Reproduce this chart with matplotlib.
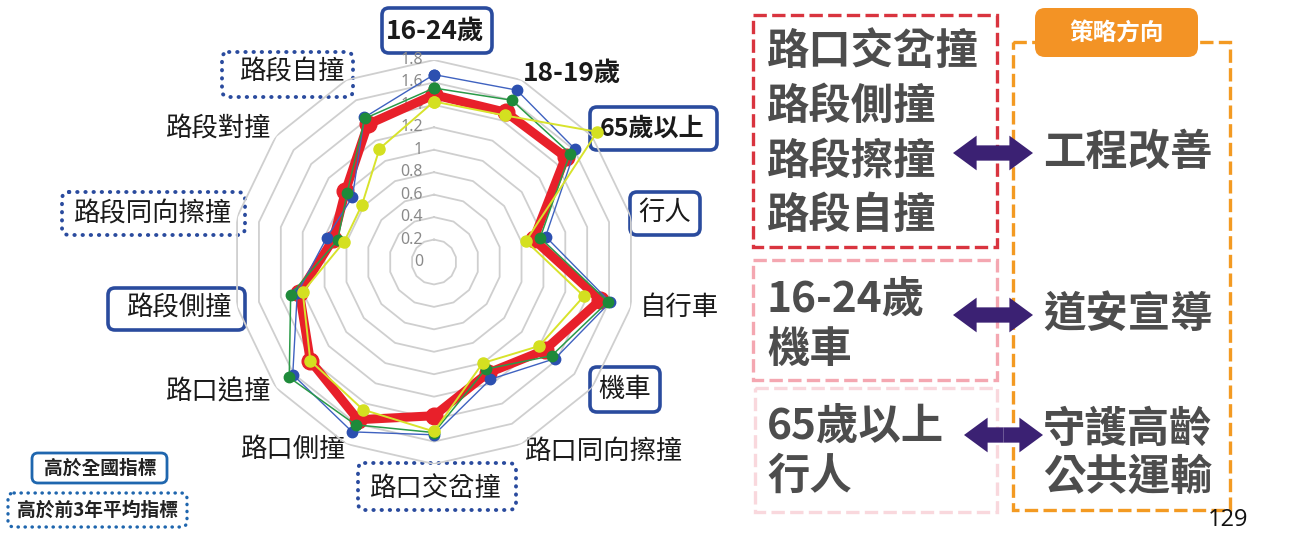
import numpy as np
import matplotlib
matplotlib.use('Agg')
import matplotlib.pyplot as plt
from matplotlib.patches import Rectangle, FancyBboxPatch, FancyArrowPatch

plt.rcParams['font.family'] = ['Noto Sans CJK TC', 'DejaVu Sans']

# radar categories (clockwise from top)
cats = ['16-24歲', '18-19歲', '65歲以上', '行人', '自行車', '機車', '路口同向擦撞',
        '路口交岔撞', '路口側撞', '路口追撞', '路段側撞', '路段同向擦撞', '路段對撞', '路段自撞']
blue = [1.67, 1.70, 1.61, 1.02, 1.61, 1.38, 1.16, 1.54, 1.68, 1.61, 1.25, 0.98, 0.93, 1.43]
green = [1.55, 1.60, 1.55, 0.97, 1.59, 1.34, 1.06, 1.52, 1.61, 1.65, 1.31, 0.88, 0.99, 1.42]
red = [1.49, 1.48, 1.50, 0.91, 1.52, 1.26, 1.10, 1.37, 1.56, 1.41, 1.23, 0.92, 1.01, 1.36]
yellow = [1.43, 1.45, 1.86, 0.84, 1.37, 1.20, 1.00, 1.51, 1.46, 1.41, 1.20, 0.82, 0.82, 1.12]
ticks = [0, 0.2, 0.4, 0.6, 0.8, 1.0, 1.2, 1.4, 1.6, 1.8]
tick_labels = ['0', '0.2', '0.4', '0.6', '0.8', '1', '1.2', '1.4', '1.6', '1.8']

# right panel text
issues = [['路口交岔撞', '路段側撞', '路段擦撞', '路段自撞'], ['16-24歲', '機車'], ['65歲以上', '行人']]
strategies = [['工程改善'], ['道安宣導'], ['守護高齡', '公共運輸']]
legend_labels = ['高於全國指標', '高於前3年平均指標']

W, H = 1292, 535
fig = plt.figure(figsize=(W / 100, H / 100), dpi=100)

# full-figure layer in pixel coords for labels, boxes, right panel
bg = fig.add_axes([0, 0, 1, 1])
bg.set_xlim(0, W)
bg.set_ylim(H, 0)
bg.axis('off')

# radar axes
cx, cy, R = 434, 262, 202
ax = fig.add_axes([(cx - R) / W, (H - cy - R) / H, 2 * R / W, 2 * R / H], projection='polar')
ax.set_theta_offset(np.pi / 2)
ax.set_theta_direction(-1)
ax.set_ylim(0, 1.8)
ax.patch.set_visible(False)
ax.grid(False)
ax.spines['polar'].set_visible(False)
ax.set_xticks([])
ax.set_yticks([])

n = len(cats)
ang = np.linspace(0, 2 * np.pi, n, endpoint=False)
ang_c = np.append(ang, ang[0])

def closed(v):
    return np.append(v, v[0])

# polygon gridlines
for t in ticks[1:]:
    ax.plot(ang_c, [t] * (n + 1), color='#cfcfcf', lw=1.3, zorder=1)
for t, lab in zip(ticks, tick_labels):
    ax.annotate(lab, (0, t), xytext=(-8, 0), textcoords='offset points', ha='right', va='center',
                color='#8a8a8a', fontsize=11.5, family=['Noto Sans', 'DejaVu Sans'], zorder=2)

ax.plot(ang_c, closed(red), color='#E8202A', lw=6.5, marker='o', ms=12, zorder=3, clip_on=False)
ax.plot(ang_c, closed(blue), color='#3F62C0', lw=1, marker='o', ms=7.5, mfc='#2C50B0', mec='#2C50B0',
        zorder=4, clip_on=False)
ax.plot(ang_c, closed(green), color='#2A9A48', lw=1.1, marker='o', ms=7.5, mfc='#1E8A3A', mec='#1E8A3A',
        zorder=5, clip_on=False)
ax.plot(ang_c, closed(yellow), color='#D8E32C', lw=1.4, marker='o', ms=8, mfc='#D4E020', mec='#D4E020',
        zorder=6, clip_on=False)

# category labels
label_xy = [(435, 31), (572, 73), (652, 129), (665, 212), (679, 307), (625, 389), (604, 451),
            (436, 488), (294, 449), (219, 392), (180, 308), (153, 214), (219, 129), (293, 72)]
sizes = [19, 19, 18] + [19] * 11
bold = [True, True, True] + [False] * 11
for lab, (x, y), b, fs in zip(cats, label_xy, bold, sizes):
    bg.text(x, y, lab, ha='center', va='center', fontsize=fs, color='#1a1a1a',
            fontweight='bold' if b else 'normal')

box_blue = '#2A4B9E'
solid_boxes = [(382, 8, 492, 53), (590, 107, 717, 150), (630, 192, 700, 235), (590, 367, 660, 412),
               (108, 288, 245, 330)]
dotted_boxes = [(358, 463, 516, 510), (62, 192, 245, 235), (222, 52, 353, 97)]
for x0, y0, x1, y1 in solid_boxes:
    bg.add_patch(FancyBboxPatch((x0, y0), x1 - x0, y1 - y0, boxstyle='round,pad=0,rounding_size=7',
                                fill=False, ec=box_blue, lw=2.6))
for x0, y0, x1, y1 in dotted_boxes:
    p = FancyBboxPatch((x0, y0), x1 - x0, y1 - y0, boxstyle='round,pad=0,rounding_size=7',
                       fill=False, ec=box_blue, lw=2.8, ls=(0, (0.1, 2.0)))
    p.set_capstyle('round')
    bg.add_patch(p)

# legend boxes bottom left
leg_blue = '#1F66AE'
bg.add_patch(FancyBboxPatch((32, 453), 135, 30, boxstyle='round,pad=0,rounding_size=6',
                            fill=False, ec=leg_blue, lw=2))
p = FancyBboxPatch((8, 493), 179, 34, boxstyle='round,pad=0,rounding_size=6',
                   fill=False, ec=leg_blue, lw=2.4, ls=(0, (0.1, 2.0)))
p.set_capstyle('round')
bg.add_patch(p)
bg.text(100, 468, legend_labels[0], ha='center', va='center', fontsize=13.5, fontweight='bold', color='#222222')
bg.text(98, 510, legend_labels[1], ha='center', va='center', fontsize=13.5, fontweight='bold', color='#222222')

# right panel
dash = (0, (4, 1.6))
bg.add_patch(Rectangle((753, 15), 244, 232, fill=False, ec='#D9343F', lw=2.4, ls=dash))
bg.add_patch(Rectangle((753, 260), 244, 120, fill=False, ec='#F4A7B1', lw=2.4, ls=dash))
bg.add_patch(Rectangle((755, 388), 242, 124, fill=False, ec='#F9D8DD', lw=2.4, ls=dash))
bg.add_patch(Rectangle((1013, 42), 217, 468, fill=False, ec='#F39A22', lw=2.4, ls=dash))
bg.add_patch(FancyBboxPatch((1035, 8), 163, 49, boxstyle='round,pad=0,rounding_size=10',
                            fc='#F39325', ec='none'))
bg.text(1116, 33, '策略方向', ha='center', va='center', fontsize=17, fontweight='bold', color='white')

txt_grey = '#4d4d4d'
issue_y = [[52, 107, 162, 216], [300, 350], [427, 477]]
strat_y = [[153], [315], [430, 478]]
for lines, ys in zip(issues, issue_y):
    for s, y in zip(lines, ys):
        bg.text(767, y, s, ha='left', va='center', fontsize=30.5, fontweight='bold', color=txt_grey)
for lines, ys in zip(strategies, strat_y):
    for s, y in zip(lines, ys):
        bg.text(1128, y, s, ha='center', va='center', fontsize=30.5, fontweight='bold', color=txt_grey)

def darrow(x0, x1, y):
    xm = (x0 + x1) / 2
    for xe in (x0, x1):
        bg.add_patch(FancyArrowPatch((xm, y), (xe, y),
                                     arrowstyle='simple,head_length=1.7,head_width=2.5,tail_width=1.1',
                                     mutation_scale=10, color='#3B2173', lw=0, shrinkA=0, shrinkB=0))

darrow(953, 1033, 153)
darrow(953, 1033, 315)
darrow(964, 1043, 435)

bg.text(1228, 520, '129', ha='center', va='center', fontsize=17, color='#111111',
        family=['Open Sans', 'DejaVu Sans'])

fig.savefig('out.png', dpi=100)
